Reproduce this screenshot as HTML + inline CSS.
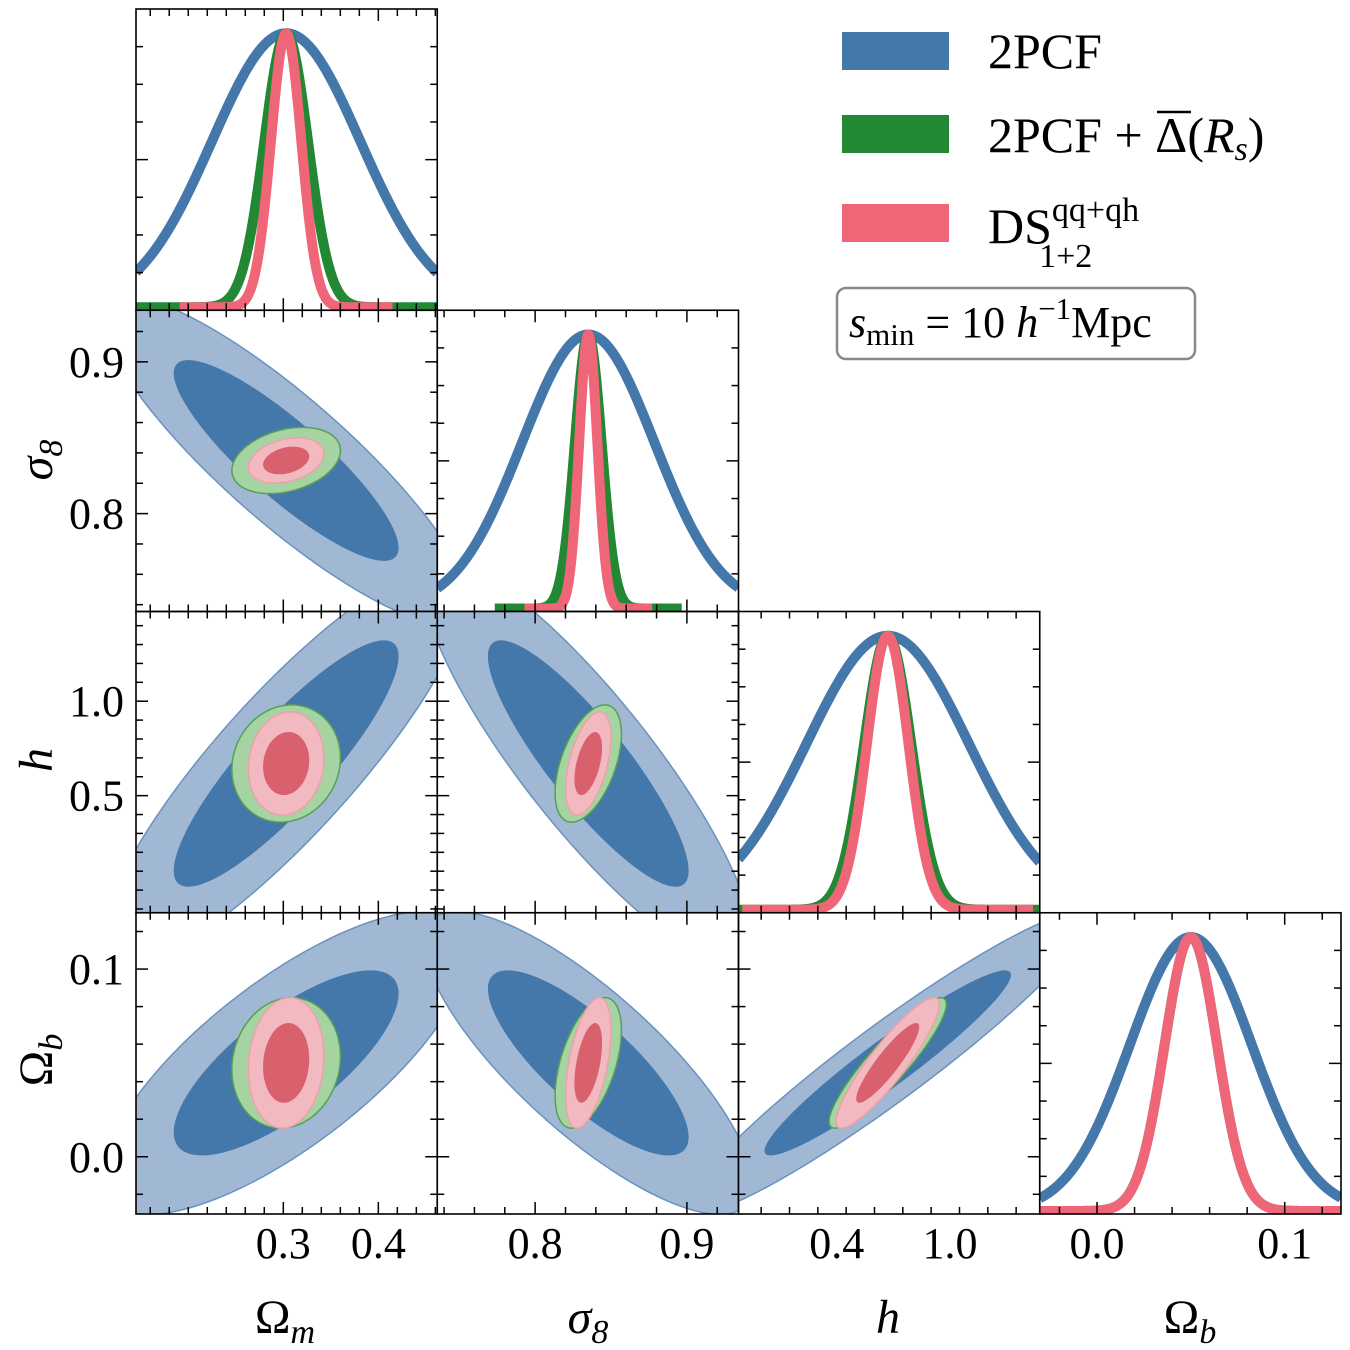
<!DOCTYPE html>
<html><head><meta charset="utf-8">
<style>
html,body{margin:0;padding:0;background:#fff;}
body{width:1350px;height:1350px;position:relative;overflow:hidden;font-family:"Liberation Serif",serif;}
svg{position:absolute;left:0;top:0;}
.t{font-family:"Liberation Serif",serif;fill:#000;}
</style></head>
<body>
<svg id="chart" width="1350" height="1350" viewBox="0 0 1350 1350"></svg>
<script>
// ---- data ----
const params = ["Om","s8","h","Ob"];
const paramLabels = ["Ω_m","σ_8","h","Ω_b"];
const means = [0.303, 0.835, 0.67, 0.05];
const sigmaBlue = [0.078, 0.0436, 0.43, 0.0325];
const sigmaGreen = [0.023, 0.0088, 0.125, 0.014];
const sigmaRed = [0.016, 0.006, 0.11, 0.014];
// correlations: pairs [Om-s8, Om-h, s8-h, Om-Ob, s8-Ob, h-Ob]
const corrBlue = [-0.87, 0.87, -0.87, 0.75, -0.8, 0.95];
const corrGreen = [0.3, 0.1, 0.5, 0.1, 0.5, 0.9];
const corrRed = [0.3, 0.1, 0.5, 0.1, 0.5, 0.9];
const xTickMajor = [[0.3,0.4],[0.8,0.9],[0.4,1.0],[0.0,0.1]];
const xTickLabels = [["0.3","0.4"],["0.8","0.9"],["0.4","1.0"],["0.0","0.1"]];
const yTickMajor = [[],[0.8,0.9],[0.5,1.0],[0.0,0.1]];
const yTickLabels = [[],["0.8","0.9"],["0.5","1.0"],["0.0","0.1"]];
const minorStep = [0.02,0.02,0.15,0.02];
const yMinorStep = [0.02,0.02,0.1,0.02];
const ranges = [[0.145,0.462],[0.7355,0.934],[-0.12,1.475],[-0.0305,0.130]];

const NS="http://www.w3.org/2000/svg";
const svg=document.getElementById('chart');
const X0=136, Y0=9, P=301.25;
function el(tag,attrs,parent){const e=document.createElementNS(NS,tag);for(const k in attrs)e.setAttribute(k,attrs[k]);(parent||svg).appendChild(e);return e;}
function sx(p,v,col){const r=ranges[p];return X0+col*P+(v-r[0])/(r[1]-r[0])*P;}
function sy(p,v,row){const r=ranges[p];return Y0+(row+1)*P-(v-r[0])/(r[1]-r[0])*P;}
function corrIdx(i,j){const m={"0,1":0,"0,2":1,"1,2":2,"0,3":3,"1,3":4,"2,3":5};return m[j+","+i];}

const defs=el('defs',{});
const set=[
 {sig:sigmaBlue,corr:corrBlue,outer:"#a0b8d4",inner:"#4477aa",edge:"#6a92be",line:"#4477aa",name:"2pcf"},
 {sig:sigmaGreen,corr:corrGreen,outer:"#a5d3a2",inner:"#6aab69",edge:"#55a055",line:"#228833",name:"2pcf-delta"},
 {sig:sigmaRed,corr:corrRed,outer:"#f2b9c1",inner:"#d9606d",edge:"#f0a0aa",line:"#ee6677",name:"ds"}
];

for(let i=0;i<4;i++){for(let j=0;j<=i;j++){
  const px=X0+j*P, py=Y0+i*P;
  const cp=el('clipPath',{id:'c'+i+j},defs);el('rect',{x:px,y:py,width:P,height:P},cp);
  const g=el('g',{'clip-path':'url(#c'+i+j+')'});
  
  
  if(i===j){
    set.forEach(s=>{
      const sg=s.sig[i];let d="";
      const lo=Math.max(ranges[i][0],means[i]-7*sg), hi=Math.min(ranges[i][1],means[i]+7*sg);
      for(let k=0;k<=300;k++){const v=lo+(hi-lo)*k/300;const f=Math.exp(-0.5*((v-means[i])/sg)**2);
        d+=(k?"L":"M")+sx(i,v,j).toFixed(2)+","+(py+P-3-274*f).toFixed(2);}
      const pth=el('path',{d:d,fill:'none',stroke:s.line,'stroke-width':10,'stroke-linejoin':'round'},g);
      
      
    });
  } else {
    const ci=corrIdx(i,j);
    set.forEach(s=>{
      [[2.484,s.outer],[1.517,s.inner]].forEach(([r,col],lvl)=>{
        const rho=s.corr[ci],sxv=s.sig[j],syv=s.sig[i];let d="";
        for(let k=0;k<=160;k++){const t=2*Math.PI*k/160;
          const vx=means[j]+r*sxv*Math.cos(t);
          const vy=means[i]+r*syv*(rho*Math.cos(t)+Math.sqrt(1-rho*rho)*Math.sin(t));
          d+=(k?"L":"M")+sx(j,vx,j).toFixed(2)+","+sy(i,vy,i).toFixed(2);}
        const e=el('path',{d:d+"Z",fill:col,stroke:lvl?'none':s.edge,'stroke-width':1.5},g);
        
        
      });
    });
  }
  const fr=el('rect',{x:px,y:py,width:P,height:P,fill:'none',stroke:'#000','stroke-width':1.6});
  
  
  const r=ranges[j];
  for(let v=Math.ceil(r[0]/minorStep[j]-1e-6)*minorStep[j];v<=r[1];v+=minorStep[j]){
    const X=sx(j,v,j);const maj=xTickMajor[j].some(m=>Math.abs(m-v)<1e-6);const L=maj?12:7;
    el('line',{x1:X,x2:X,y1:py+P,y2:py+P-L,stroke:'#000','stroke-width':1.5});
    el('line',{x1:X,x2:X,y1:py,y2:py+L,stroke:'#000','stroke-width':1.5});
  }
  if(i===j){
    for(let k=1;k<8;k++){const Y=py+k*P/8;const L=(k%4===0)?12:7;
      el('line',{x1:px,x2:px+L,y1:Y,y2:Y,stroke:'#000','stroke-width':1.5});
      el('line',{x1:px+P,x2:px+P-L,y1:Y,y2:Y,stroke:'#000','stroke-width':1.5});}
  } else {
    const ry=ranges[i];
    for(let v=Math.ceil(ry[0]/yMinorStep[i]-1e-6)*yMinorStep[i];v<=ry[1];v+=yMinorStep[i]){
      const Y=sy(i,v,i);const maj=yTickMajor[i].some(m=>Math.abs(m-v)<1e-6);const L=maj?12:7;
      el('line',{x1:px,x2:px+L,y1:Y,y2:Y,stroke:'#000','stroke-width':1.5});
      el('line',{x1:px+P,x2:px+P-L,y1:Y,y2:Y,stroke:'#000','stroke-width':1.5});}
  }
}}
for(let j=0;j<4;j++){xTickMajor[j].forEach((v,k)=>{
  const t=el('text',{x:sx(j,v,j),y:1258,'text-anchor':'middle','font-size':44,class:'t'});t.textContent=xTickLabels[j][k];
  });}
for(let i=1;i<4;i++){yTickMajor[i].forEach((v,k)=>{
  const t=el('text',{x:124,y:sy(i,v,i)+15,'text-anchor':'end','font-size':44,class:'t'});t.textContent=yTickLabels[i][k];
  });}
function title(x,y,main,sub,rot,name){
  const t=el('text',{x:x,y:y,'text-anchor':'middle','font-size':48,class:'t',transform:rot?`rotate(-90 ${x} ${y})`:''});
  const a=el('tspan',{'font-style':main==='h'||main==='σ'?'italic':'normal'},t);a.textContent=main;
  if(sub){const b=el('tspan',{'font-size':34,dy:10,'font-style':'italic'},t);b.textContent=sub;}
  }
title(285,1333,'Ω','m',false,'x-axis-title-omega-m');
title(588,1333,'σ','8',false,'x-axis-title-sigma8');
title(888,1333,'h','',false,'x-axis-title-h');
title(1190,1333,'Ω','b',false,'x-axis-title-omega-b');
title(52,460,'σ','8',true,'y-axis-title-sigma8');
title(52,760,'h','',true,'y-axis-title-h');
title(52,1060,'Ω','b',true,'y-axis-title-omega-b');
const leg=el('g',{});
[["#4477aa",32],["#228833",115],["#ee6677",204]].forEach(([c,y],k)=>{
  const r=el('rect',{x:842,y:y,width:107,height:38,fill:c},leg);
  });
let t=el('text',{x:988,y:68,'font-size':50,class:'t'},leg);t.textContent='2PCF';

t=el('text',{x:988,y:152,'font-size':50,class:'t'},leg);
t.innerHTML='2PCF + <tspan>Δ</tspan>(<tspan font-style="italic">R</tspan><tspan font-size="34" dy="8" font-style="italic">s</tspan><tspan dy="-8">)</tspan>';

el('line',{x1:1157,x2:1191,y1:112,y2:112,stroke:'#000','stroke-width':2.5},leg);
t=el('text',{x:988,y:243,'font-size':50,class:'t'},leg);
t.innerHTML='DS<tspan font-size="34" dy="-22">qq+qh</tspan><tspan font-size="34" dx="-100" dy="46">1+2</tspan>';

const box=el('rect',{x:837,y:288,width:358,height:71,rx:9,fill:'#fff',stroke:'#888','stroke-width':2.5});

t=el('text',{x:849,y:337,'font-size':44,class:'t'});
t.innerHTML='<tspan font-style="italic">s</tspan><tspan font-size="31" dy="8">min</tspan><tspan dy="-8"> = 10 </tspan><tspan font-style="italic">h</tspan><tspan font-size="31" dy="-18">−1</tspan><tspan dy="18">Mpc</tspan>';

</script>
</body></html>
